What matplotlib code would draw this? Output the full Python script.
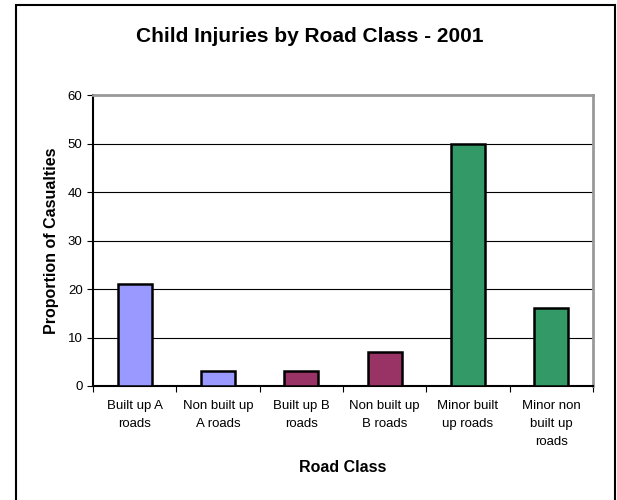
import matplotlib.pyplot as plt
from matplotlib.patches import Rectangle

plt.rcParams['font.family'] = ['Liberation Sans', 'DejaVu Sans']

categories = ["Built up A\nroads", "Non built up\nA roads", "Built up B\nroads",
              "Non built up\nB roads", "Minor built\nup roads", "Minor non\nbuilt up\nroads"]
values = [21, 3, 3, 7, 50, 16]
bar_colors = ["#9999FF", "#9999FF", "#993366", "#993366", "#339966", "#339966"]

fig = plt.figure(figsize=(6.17, 5.00), dpi=100)
ax = fig.add_axes([93 / 617, 1 - 386 / 500, 500 / 617, 291 / 500])

# outer chart border
fig.patches.append(Rectangle((16 / 617, -0.01), 599 / 617, 1 - 5 / 500 + 0.01,
                             transform=fig.transFigure, fill=False,
                             edgecolor="black", linewidth=1.5))

x = range(len(values))
ax.bar(x, values, width=0.41, color=bar_colors, edgecolor="black",
       linewidth=1.8, zorder=3)

ax.set_xlim(-0.5, len(values) - 0.5)
ax.set_ylim(0, 60)
ax.set_yticks(range(0, 61, 10))
ax.yaxis.grid(True, color="black", linewidth=0.8, zorder=0)

# category boundaries get the ticks, labels sit in the middle
ax.set_xticks([i + 0.5 for i in range(-1, len(values))])
ax.set_xticklabels([])
ax.set_xticks(list(x), minor=True)
ax.set_xticklabels(categories, minor=True, fontsize=9.5, linespacing=1.68,
                   va="top")
ax.tick_params(axis="x", which="minor", length=0, pad=10)
ax.tick_params(axis="x", which="major", length=4, direction="out",
               color="black")
ax.tick_params(axis="y", length=4, direction="out", labelsize=9.5)

for side in ["top", "right"]:
    ax.spines[side].set_color("#999999")
    ax.spines[side].set_linewidth(2)
ax.spines["left"].set_linewidth(1.5)
ax.spines["bottom"].set_linewidth(1.5)

fig.text(310 / 617, 1 - 37 / 500, "Child Injuries by Road Class - 2001",
         ha="center", va="center", fontsize=15, fontweight="bold")
ax.set_ylabel("Proportion of Casualties", fontsize=11.5, fontweight="bold")
ax.yaxis.set_label_coords(-0.068, 0.5)
fig.text(343 / 617, 1 - 467 / 500, "Road Class", ha="center", va="center",
         fontsize=11.5, fontweight="bold")

fig.savefig("out.png", dpi=100)
